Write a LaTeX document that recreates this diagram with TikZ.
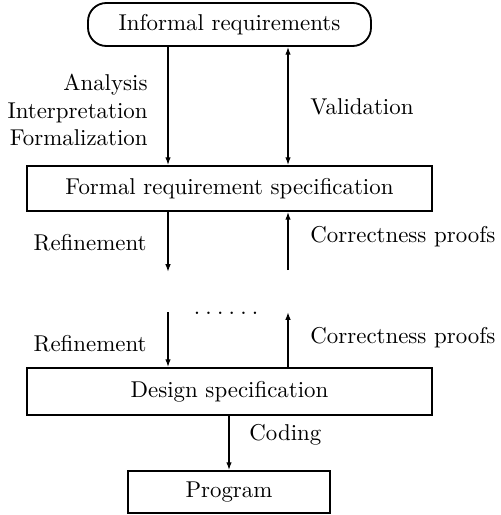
\documentclass[tikz,border=0pt]{standalone}
\usetikzlibrary{arrows.meta}
\def\pxu{0.437pt}
\begin{document}
\begin{tikzpicture}[x=0.437pt,y=-0.437pt,
  font=\fontsize{10}{12}\selectfont,
  box/.style={draw, line width=0.8pt, inner sep=0pt},
  rbox/.style={box, rounded corners=8pt},
  arr/.style={line width=0.6pt, -{Latex[length=3.4pt,width=2.4pt]}},
  darr/.style={line width=0.6pt, {Latex[length=3.4pt,width=2.4pt]}-{Latex[length=3.4pt,width=2.4pt]}},
  lbl/.style={inner sep=0pt}]
\useasboundingbox (0,0) rectangle (500,515);

\node[rbox, minimum width={283*\pxu}, minimum height={43*\pxu}] (inf) at (229.5,24.5) {Informal requirements};
\node[box, minimum width={405*\pxu}, minimum height={45*\pxu}] (frs) at (229.5,188.5) {Formal requirement specification};
\node[box, minimum width={405*\pxu}, minimum height={47*\pxu}] (dsp) at (229.5,391.5) {Design specification};
\node[box, minimum width={202*\pxu}, minimum height={42*\pxu}] (prg) at (229,492) {Program};

\coordinate (xL) at (168,0);
\coordinate (xR) at (288,0);
\coordinate (r1end) at (168,272);
\coordinate (c1start) at (288,270);
\coordinate (r2start) at (168,312);
\coordinate (c2end) at (288,312);

\draw[arr] (inf.south -| xL) -- (frs.north -| xL);
\draw[darr] (inf.south -| xR) -- (frs.north -| xR);
\draw[arr] (frs.south -| xL) -- (r1end);
\draw[arr] (c1start) -- (frs.south -| xR);
\draw[arr] (r2start) -- (dsp.north -| xL);
\draw[arr] (dsp.north -| xR) -- (c2end);
\draw[arr] (dsp.south -| prg.north) -- (prg.north);

\node[lbl, anchor=east, align=right] (ana) at (148,110) {Analysis\\Interpretation\\Formalization};
\node[lbl, anchor=west] (val) at (310,107) {Validation};
\node[lbl, anchor=east] (ref1) at (147,243) {Refinement};
\node[lbl, anchor=west] (cor1) at (310,237) {Correctness proofs};
\node[lbl, anchor=base] (dots) at (226,314) {.\kern2.3pt.\kern2.3pt.\kern2.3pt.\kern2.3pt.\kern2.3pt.};
\node[lbl, anchor=east] (ref2) at (147,344) {Refinement};
\node[lbl, anchor=west] (cor2) at (310,338) {Correctness proofs};
\node[lbl, anchor=west] (cod) at (249,435) {Coding};
\end{tikzpicture}
\end{document}
